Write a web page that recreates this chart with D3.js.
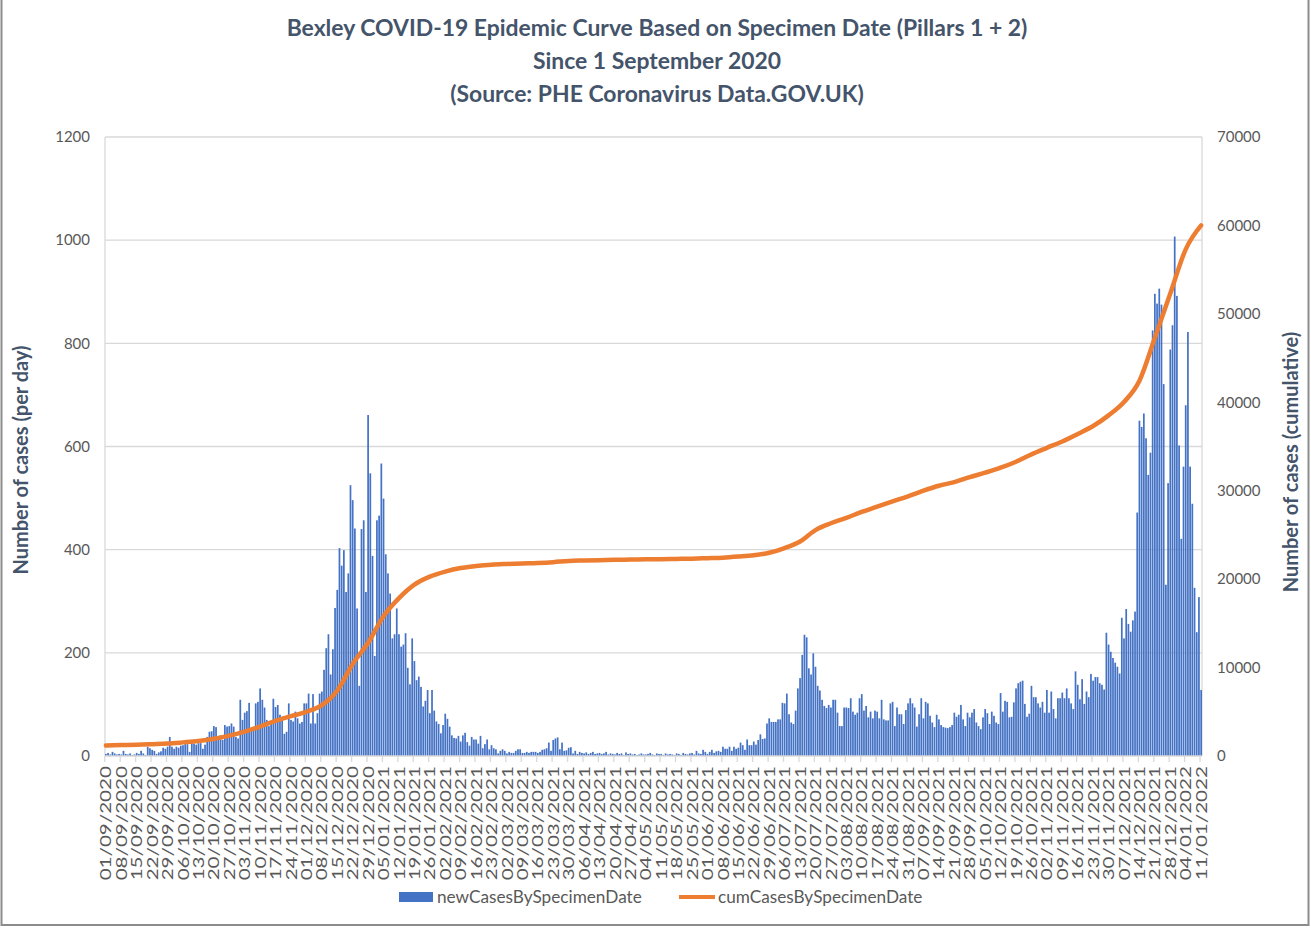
<!DOCTYPE html>
<html lang="en">
<head>
<meta charset="UTF-8">
<title>Bexley COVID-19 Epidemic Curve</title>
<script src="https://d3js.org/d3.v7.min.js"></script>
<style>
  body { margin: 0; background: #fff; }
  svg text { font-family: Lato, "Open Sans", sans-serif; }
</style>
</head>
<body>
<svg id="chart" width="1311" height="930"></svg>
<script>
var titleLines = [
  "Bexley COVID-19 Epidemic Curve Based on Specimen Date (Pillars 1 + 2)",
  "Since 1 September 2020",
  "(Source: PHE Coronavirus Data.GOV.UK)"
];

// daily cases, one row per week starting 01/09/2020
var newCases = [
  4, 6, 3, 8, 5, 3, 4,
  3, 10, 4, 3, 5, 2, 3,
  6, 4, 10, 5, 2, 18, 15,
  12, 10, 4, 7, 9, 16, 14,
  18, 37, 18, 14, 18, 16, 20,
  21, 23, 23, 8, 25, 24, 22,
  25, 25, 14, 22, 37, 47, 48,
  58, 56, 37, 40, 31, 60, 57,
  58, 63, 57, 37, 34, 109, 70,
  84, 87, 103, 54, 50, 102, 105,
  131, 109, 94, 70, 58, 66, 111,
  95, 99, 80, 76, 43, 47, 102,
  70, 67, 86, 73, 63, 66, 102,
  102, 121, 63, 120, 63, 83, 121,
  125, 167, 209, 236, 158, 207, 287,
  322, 403, 369, 399, 318, 354, 525,
  496, 441, 286, 136, 440, 457, 318,
  661, 548, 388, 194, 457, 466, 567,
  499, 391, 354, 315, 228, 236, 286,
  236, 212, 216, 238, 171, 139, 228,
  184, 147, 154, 134, 96, 107, 128,
  83, 128, 88, 67, 62, 44, 60,
  82, 72, 57, 40, 35, 34, 39,
  28, 40, 45, 27, 20, 37, 32,
  32, 24, 39, 15, 23, 32, 13,
  21, 15, 13, 5, 10, 13, 10,
  5, 8, 6, 6, 10, 13, 13,
  6, 6, 8, 6, 8, 8, 8,
  6, 8, 12, 13, 15, 26, 10,
  31, 34, 36, 13, 26, 10, 11,
  16, 17, 5, 10, 4, 8, 6,
  5, 7, 4, 6, 8, 4, 5,
  6, 4, 5, 8, 3, 5, 4,
  3, 6, 4, 5, 2, 7, 4,
  5, 3, 4, 2, 3, 5, 3,
  3, 4, 6, 3, 2, 5, 4,
  4, 2, 5, 3, 4, 3, 2,
  5, 4, 2, 6, 4, 3, 5,
  6, 3, 10, 5, 4, 12, 8,
  4, 8, 12, 6, 9, 10, 8,
  18, 14, 14, 18, 10, 18, 14,
  16, 26, 21, 12, 32, 21, 21,
  28, 22, 31, 42, 33, 34, 63,
  73, 66, 66, 66, 71, 71, 103,
  102, 121, 81, 65, 62, 88, 131,
  151, 196, 235, 230, 170, 158, 199,
  173, 136, 127, 109, 97, 93, 99,
  94, 109, 109, 84, 58, 58, 94,
  94, 93, 112, 86, 80, 84, 112,
  120, 88, 97, 75, 86, 73, 88,
  86, 73, 109, 71, 69, 69, 102,
  105, 58, 94, 81, 81, 62, 89,
  102, 112, 102, 94, 57, 81, 112,
  73, 105, 102, 78, 65, 56, 80,
  71, 60, 56, 55, 54, 56, 60,
  84, 76, 80, 99, 71, 58, 84,
  75, 84, 91, 65, 58, 52, 75,
  91, 83, 62, 86, 78, 65, 62,
  122, 86, 107, 105, 75, 76, 104,
  131, 141, 144, 146, 101, 76, 82,
  136, 114, 114, 102, 94, 105, 84,
  128, 84, 125, 91, 73, 112, 112,
  123, 112, 131, 112, 102, 91, 164,
  138, 110, 149, 101, 125, 114, 159,
  146, 153, 153, 141, 138, 129, 239,
  216, 202, 190, 181, 173, 160, 268,
  228, 285, 256, 241, 263, 280, 472,
  650, 638, 664, 616, 545, 588, 825,
  896, 877, 906, 875, 721, 332, 529,
  788, 835, 1007, 892, 602, 421, 561,
  680, 822, 561, 489, 326, 240, 308,
  128
];

// cumulative cases read every 7th day (01/09/2020 ... 11/01/2022)
var cumWeekly = [
  1200, 1240, 1270, 1330, 1400, 1540, 1700, 1950, 2300, 2750,
  3330, 3980, 4500, 5000, 5750, 7400, 10400, 12800, 15800, 17850,
  19380, 20280, 20850, 21250, 21480, 21640, 21720, 21780, 21830, 21920,
  22060, 22110, 22150, 22180, 22210, 22240, 22260, 22290, 22320, 22370,
  22430, 22550, 22700, 22980, 23520, 24250, 25550, 26320, 26930, 27610,
  28200, 28800, 29370, 30000, 30560, 30980, 31530, 32040, 32600, 33280,
  34110, 34850, 35570, 36420, 37320, 38520, 40030, 42440, 47300, 52300,
  57300, 60000
];

var xTickLabels = [
  "01/09/2020", "08/09/2020", "15/09/2020", "22/09/2020", "29/09/2020",
  "06/10/2020", "13/10/2020", "20/10/2020", "27/10/2020", "03/11/2020",
  "10/11/2020", "17/11/2020", "24/11/2020", "01/12/2020", "08/12/2020",
  "15/12/2020", "22/12/2020", "29/12/2020", "05/01/2021", "12/01/2021",
  "19/01/2021", "26/01/2021", "02/02/2021", "09/02/2021", "16/02/2021",
  "23/02/2021", "02/03/2021", "09/03/2021", "16/03/2021", "23/03/2021",
  "30/03/2021", "06/04/2021", "13/04/2021", "20/04/2021", "27/04/2021",
  "04/05/2021", "11/05/2021", "18/05/2021", "25/05/2021", "01/06/2021",
  "08/06/2021", "15/06/2021", "22/06/2021", "29/06/2021", "06/07/2021",
  "13/07/2021", "20/07/2021", "27/07/2021", "03/08/2021", "10/08/2021",
  "17/08/2021", "24/08/2021", "31/08/2021", "07/09/2021", "14/09/2021",
  "21/09/2021", "28/09/2021", "05/10/2021", "12/10/2021", "19/10/2021",
  "26/10/2021", "02/11/2021", "09/11/2021", "16/11/2021", "23/11/2021",
  "30/11/2021", "07/12/2021", "14/12/2021", "21/12/2021", "28/12/2021",
  "04/01/2022", "11/01/2022"
];

var yLeftTicks = [0, 200, 400, 600, 800, 1000, 1200];
var yRightTicks = [0, 10000, 20000, 30000, 40000, 50000, 60000, 70000];
var seriesNames = ["newCasesBySpecimenDate", "cumCasesBySpecimenDate"];

var titleColor = "#44546a", labelColor = "#595959", gridColor = "#d9d9d9";
var barColor = "#4472c4", lineColor = "#ed7d31";

var svg = d3.select("#chart");
var plotLeft = 105, plotRight = 1202, plotTop = 137, plotBottom = 756;

var x = d3.scaleBand()
  .domain(d3.range(newCases.length))
  .range([plotLeft, plotRight])
  .paddingInner(0.22);
var step = x.step();
var yL = d3.scaleLinear().domain([0, 1200]).range([plotBottom, plotTop]);
var yR = d3.scaleLinear().domain([0, 70000]).range([plotBottom, plotTop]);

svg.append("rect").attr("width", 1311).attr("height", 930).attr("fill", "#fff");

// outer frame
svg.append("rect")
  .attr("x", 1.5).attr("y", -2).attr("width", 1307).attr("height", 927)
  .attr("fill", "none").attr("stroke", "#8c8c8c").attr("stroke-width", 2);

// title
var title = svg.append("g").attr("font-weight", "bold").attr("fill", titleColor)
  .attr("text-anchor", "middle");
var titleY = [28, 61, 94];
var tl = title.selectAll("text").data(titleLines).enter().append("text")
  .attr("x", 657).attr("y", function(d, i){ return titleY[i]; })
  .attr("dy", "0.35em").attr("font-size", 20).text(function(d){ return d; });
var w1 = tl.node().getComputedTextLength();
tl.attr("font-size", 20 * 741 / w1);

// gridlines
svg.append("g").selectAll("line").data(yLeftTicks.slice(1)).enter().append("line")
  .attr("x1", plotLeft).attr("x2", plotRight)
  .attr("y1", function(d){ return yL(d); }).attr("y2", function(d){ return yL(d); })
  .attr("stroke", gridColor).attr("stroke-width", 1.3);

// vertical axis lines
svg.append("line").attr("x1", plotLeft).attr("x2", plotLeft).attr("y1", plotTop).attr("y2", plotBottom)
  .attr("stroke", gridColor).attr("stroke-width", 1.3);
svg.append("line").attr("x1", plotRight).attr("x2", plotRight).attr("y1", plotTop).attr("y2", plotBottom)
  .attr("stroke", gridColor).attr("stroke-width", 1.3);

// bars
svg.append("g").selectAll("rect").data(newCases).enter().append("rect")
  .attr("x", function(d, i){ return x(i); })
  .attr("width", x.bandwidth())
  .attr("y", function(d){ return yL(d); })
  .attr("height", function(d){ return plotBottom - yL(d); })
  .attr("fill", barColor);

// x axis line and ticks
svg.append("line").attr("x1", plotLeft).attr("x2", plotRight).attr("y1", plotBottom).attr("y2", plotBottom)
  .attr("stroke", gridColor).attr("stroke-width", 1.3);
var tickIdx = xTickLabels.map(function(d, i){ return i * 7; });
svg.append("g").selectAll("line").data(tickIdx).enter().append("line")
  .attr("x1", function(d){ return x(d) - step * x.paddingInner() / 2; })
  .attr("x2", function(d){ return x(d) - step * x.paddingInner() / 2; })
  .attr("y1", plotBottom).attr("y2", plotBottom + 6)
  .attr("stroke", gridColor).attr("stroke-width", 1.3);

// date labels: narrow across, long along the text, like the original's font
svg.append("g").attr("fill", labelColor).attr("font-size", 16)
  .attr("text-anchor", "end")
  .selectAll("text").data(xTickLabels).enter().append("text")
  .attr("transform", function(d, i){
    return "translate(" + (x(tickIdx[i]) + x.bandwidth() / 2) + "," + (plotBottom + 10) + ") rotate(-90) scale(1.29,1)";
  })
  .attr("dy", "0.35em")
  .text(function(d){ return d; });

// y axes labels
svg.append("g").attr("fill", labelColor).attr("font-size", 15).attr("text-anchor", "end")
  .selectAll("text").data(yLeftTicks).enter().append("text")
  .attr("x", 90).attr("y", function(d){ return yL(d); }).attr("dy", "0.35em")
  .text(function(d){ return d; });
svg.append("g").attr("fill", labelColor).attr("font-size", 15).attr("text-anchor", "start")
  .selectAll("text").data(yRightTicks).enter().append("text")
  .attr("x", 1217).attr("y", function(d){ return yR(d); }).attr("dy", "0.35em")
  .text(function(d){ return d; });

// axis titles
svg.append("text").attr("transform", "translate(21,460) rotate(-90)")
  .attr("text-anchor", "middle").attr("dy", "0.35em")
  .attr("font-size", 20).attr("font-weight", "bold").attr("fill", titleColor)
  .text("Number of cases (per day)");
svg.append("text").attr("transform", "translate(1291,462) rotate(-90)")
  .attr("text-anchor", "middle").attr("dy", "0.35em")
  .attr("font-size", 20).attr("font-weight", "bold").attr("fill", titleColor)
  .text("Number of cases (cumulative)");

// cumulative line
var line = d3.line()
  .x(function(d, i){ return x(i * 7) + x.bandwidth() / 2; })
  .y(function(d){ return yR(d); })
  .curve(d3.curveMonotoneX);
svg.append("path").datum(cumWeekly)
  .attr("d", line)
  .attr("fill", "none").attr("stroke", lineColor).attr("stroke-width", 4.5)
  .attr("stroke-linecap", "round").attr("stroke-linejoin", "round");

// legend
var lg = svg.append("g").attr("font-size", 17.2).attr("fill", labelColor);
lg.append("rect").attr("x", 399).attr("y", 892).attr("width", 34).attr("height", 10).attr("fill", barColor);
lg.append("text").attr("x", 437).attr("y", 897).attr("dy", "0.35em").text(seriesNames[0]);
lg.append("line").attr("x1", 679).attr("x2", 715).attr("y1", 897).attr("y2", 897)
  .attr("stroke", lineColor).attr("stroke-width", 4);
lg.append("text").attr("x", 718).attr("y", 897).attr("dy", "0.35em").text(seriesNames[1]);
</script>
</body>
</html>
